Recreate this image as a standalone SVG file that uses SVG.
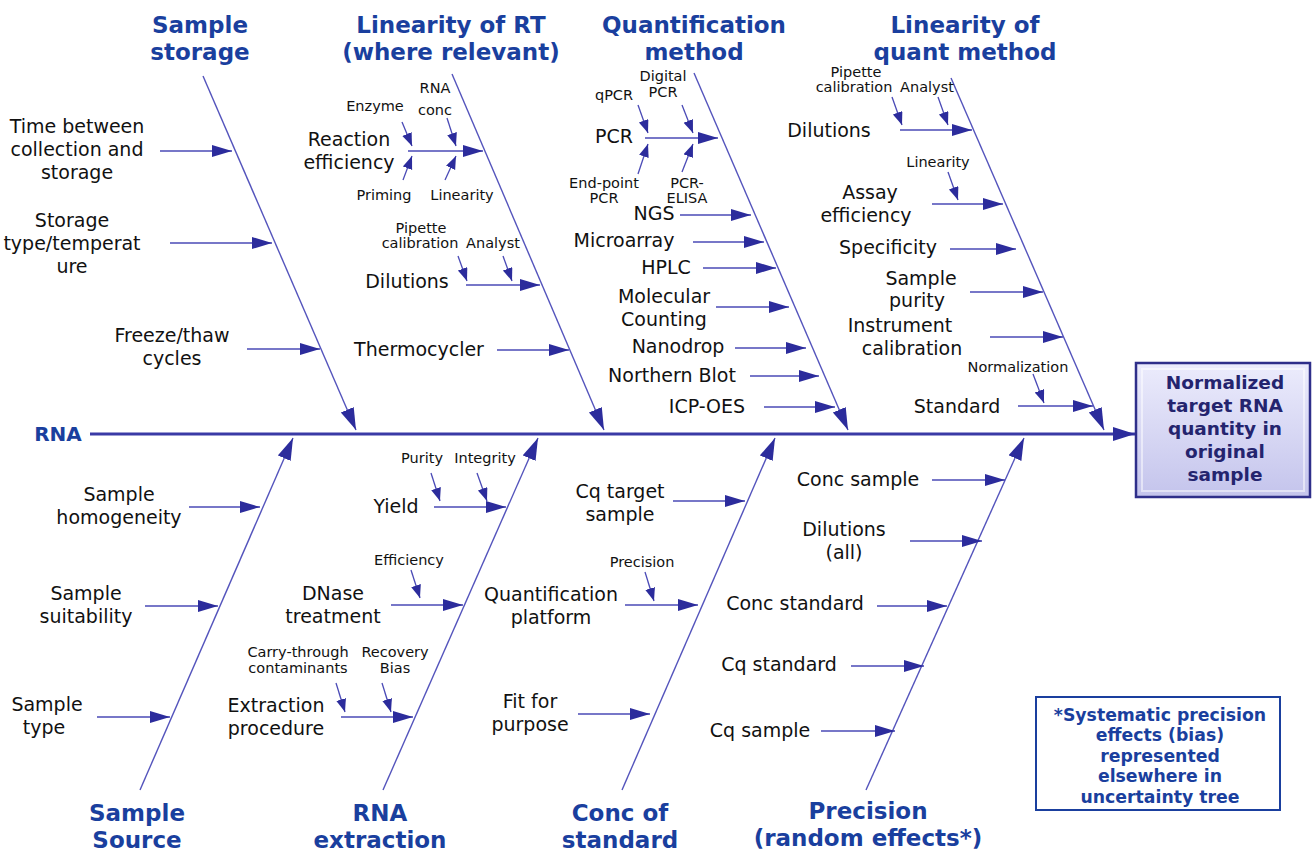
<svg xmlns="http://www.w3.org/2000/svg" width="1312" height="853" viewBox="0 0 1312 853">
<style>
.t{font-family:"DejaVu Sans","Verdana",sans-serif;font-size:23px;font-weight:bold;fill:#1a3f9e;text-anchor:middle}
.m{font-family:"DejaVu Sans","Verdana",sans-serif;font-size:19px;fill:#111;text-anchor:middle}
.s{font-family:"DejaVu Sans","Verdana",sans-serif;font-size:14.5px;fill:#111;text-anchor:middle}
.bone{stroke:#5454bc;stroke-width:1.4;fill:none}
.arr{stroke:#4a4ab6;stroke-width:1.4;fill:none;marker-end:url(#ah)}
.sa{stroke:#4a4ab6;stroke-width:1.3;fill:none;marker-end:url(#sh)}
.bx{font-family:"DejaVu Sans","Verdana",sans-serif;font-size:18.5px;font-weight:bold;fill:#24246e;text-anchor:middle}
.nt{font-family:"DejaVu Sans","Verdana",sans-serif;font-size:17.3px;font-weight:bold;fill:#1a3f9e;text-anchor:middle}
</style>
<defs>
<marker id="ah" markerUnits="userSpaceOnUse" markerWidth="22" markerHeight="14" refX="20" refY="6" orient="auto"><path d="M0,0 L20,6 L0,12 z" fill="#2c2c9c"/></marker>
<marker id="sh" markerUnits="userSpaceOnUse" markerWidth="14" markerHeight="11" refX="13" refY="5" orient="auto"><path d="M0,0 L13,5 L0,10 z" fill="#2c2c9c"/></marker>
<marker id="bh" markerUnits="userSpaceOnUse" markerWidth="24" markerHeight="16" refX="22" refY="7" orient="auto"><path d="M0,0 L22,7 L0,14 z" fill="#2c2c9c"/></marker>
<linearGradient id="bg" x1="0" y1="0" x2="0" y2="1"><stop offset="0" stop-color="#ececfc"/><stop offset="1" stop-color="#c4c4ec"/></linearGradient>
</defs>
<rect width="1312" height="853" fill="#fff"/>

<g id="connectors">
<line x1="90" y1="434" x2="1135" y2="434" stroke="#3a3aa6" stroke-width="3" marker-end="url(#bh)"/>
<line class="bone" x1="203" y1="76" x2="356" y2="430" marker-end="url(#bh)"/>
<line class="bone" x1="452" y1="74" x2="604" y2="430" marker-end="url(#bh)"/>
<line class="bone" x1="694" y1="73" x2="848" y2="430" marker-end="url(#bh)"/>
<line class="bone" x1="951" y1="78" x2="1104" y2="430" marker-end="url(#bh)"/>
<line class="bone" x1="140" y1="790" x2="293" y2="438" marker-end="url(#bh)"/>
<line class="bone" x1="383" y1="790" x2="538" y2="438" marker-end="url(#bh)"/>
<line class="bone" x1="622" y1="790" x2="775" y2="438" marker-end="url(#bh)"/>
<line class="bone" x1="866" y1="790" x2="1024" y2="438" marker-end="url(#bh)"/>
<line class="arr" x1="160" y1="151" x2="232" y2="151"/>
<line class="arr" x1="170" y1="243" x2="272" y2="243"/>
<line class="arr" x1="247" y1="349" x2="320" y2="349"/>
<line class="arr" x1="408" y1="151" x2="483" y2="151"/>
<line class="sa" x1="402" y1="122" x2="412" y2="146"/>
<line class="sa" x1="447" y1="118" x2="456" y2="146"/>
<line class="sa" x1="403" y1="180" x2="412" y2="156"/>
<line class="sa" x1="445" y1="180" x2="456" y2="156"/>
<line class="arr" x1="466" y1="285" x2="540" y2="285"/>
<line class="sa" x1="458" y1="256" x2="467" y2="281"/>
<line class="sa" x1="503" y1="256" x2="512" y2="281"/>
<line class="arr" x1="497" y1="350" x2="569" y2="350"/>
<line class="arr" x1="645" y1="138" x2="718" y2="138"/>
<line class="sa" x1="638" y1="105" x2="648" y2="133"/>
<line class="sa" x1="682" y1="105" x2="693" y2="133"/>
<line class="sa" x1="638" y1="174" x2="648" y2="144"/>
<line class="sa" x1="682" y1="172" x2="693" y2="144"/>
<line class="arr" x1="680" y1="215" x2="751" y2="215"/>
<line class="arr" x1="693" y1="242" x2="764" y2="242"/>
<line class="arr" x1="703" y1="268" x2="776" y2="268"/>
<line class="arr" x1="716" y1="307" x2="789" y2="307"/>
<line class="arr" x1="735" y1="348" x2="806" y2="348"/>
<line class="arr" x1="750" y1="376" x2="819" y2="376"/>
<line class="arr" x1="764" y1="407" x2="835" y2="407"/>
<line class="arr" x1="900" y1="130" x2="972" y2="130"/>
<line class="sa" x1="892" y1="97" x2="902" y2="125"/>
<line class="sa" x1="938" y1="97" x2="948" y2="125"/>
<line class="sa" x1="948" y1="172" x2="958" y2="200"/>
<line class="arr" x1="932" y1="204" x2="1003" y2="204"/>
<line class="arr" x1="950" y1="249" x2="1016" y2="249"/>
<line class="arr" x1="970" y1="292" x2="1043" y2="292"/>
<line class="arr" x1="990" y1="337" x2="1063" y2="337"/>
<line class="sa" x1="1033" y1="374" x2="1044" y2="403"/>
<line class="arr" x1="1018" y1="406" x2="1093" y2="406"/>
<line class="arr" x1="189" y1="507" x2="260" y2="507"/>
<line class="arr" x1="145" y1="606" x2="218" y2="606"/>
<line class="arr" x1="97" y1="717" x2="170" y2="717"/>
<line class="sa" x1="431" y1="473" x2="440" y2="501"/>
<line class="sa" x1="477" y1="473" x2="487" y2="501"/>
<line class="arr" x1="434" y1="507" x2="506" y2="507"/>
<line class="sa" x1="411" y1="570" x2="420" y2="598"/>
<line class="arr" x1="391" y1="605" x2="463" y2="605"/>
<line class="sa" x1="336" y1="683" x2="345" y2="712"/>
<line class="sa" x1="382" y1="683" x2="391" y2="712"/>
<line class="arr" x1="341" y1="717" x2="413" y2="717"/>
<line class="arr" x1="673" y1="501" x2="745" y2="501"/>
<line class="sa" x1="645" y1="572" x2="654" y2="601"/>
<line class="arr" x1="625" y1="605" x2="698" y2="605"/>
<line class="arr" x1="578" y1="714" x2="650" y2="714"/>
<line class="arr" x1="932" y1="480" x2="1005" y2="480"/>
<line class="arr" x1="910" y1="541" x2="982" y2="541"/>
<line class="arr" x1="877" y1="606" x2="947" y2="606"/>
<line class="arr" x1="851" y1="666" x2="924" y2="666"/>
<line class="arr" x1="821" y1="731" x2="895" y2="731"/>
</g>

<g id="title-sample-storage"><text class="t" x="200" y="33">Sample</text><text class="t" x="200" y="60">storage</text></g>
<g id="title-linearity-rt"><text class="t" x="451" y="33">Linearity of RT</text><text class="t" x="451" y="60">(where relevant)</text></g>
<g id="title-quant-method"><text class="t" x="694" y="33">Quantification</text><text class="t" x="694" y="60">method</text></g>
<g id="title-linearity-quant"><text class="t" x="965" y="33">Linearity of</text><text class="t" x="965" y="60">quant method</text></g>
<g id="title-sample-source"><text class="t" x="137" y="821">Sample</text><text class="t" x="137" y="848">Source</text></g>
<g id="title-rna-extraction"><text class="t" x="380" y="821">RNA</text><text class="t" x="380" y="848">extraction</text></g>
<g id="title-conc-standard"><text class="t" x="620" y="821">Conc of</text><text class="t" x="620" y="848">standard</text></g>
<g id="title-precision"><text class="t" x="868" y="819">Precision</text><text class="t" x="868" y="846">(random effects*)</text></g>
<g id="rna"><text class="t" x="58" y="441" style="font-size:20px">RNA</text></g>

<g id="n-time"><text class="m" x="77" y="133">Time between</text><text class="m" x="77" y="156">collection and</text><text class="m" x="77" y="179">storage</text></g>
<g id="n-storage-type"><text class="m" x="72" y="227">Storage</text><text class="m" x="72" y="250">type/temperat</text><text class="m" x="72" y="273">ure</text></g>
<g id="n-freeze"><text class="m" x="172" y="342">Freeze/thaw</text><text class="m" x="172" y="365">cycles</text></g>

<g id="n-reaction"><text class="m" x="349" y="146">Reaction</text><text class="m" x="349" y="169">efficiency</text></g>
<g id="n-enzyme"><text class="s" x="375" y="111">Enzyme</text></g>
<g id="n-rnaconc"><text class="s" x="435" y="93">RNA</text><text class="s" x="435" y="115">conc</text></g>
<g id="n-priming"><text class="s" x="384" y="200">Priming</text></g>
<g id="n-linearity1"><text class="s" x="462" y="200">Linearity</text></g>
<g id="n-pipette1"><text class="s" x="421" y="233">Pipette</text><text class="s" x="420" y="248">calibration</text></g>
<g id="n-analyst1"><text class="s" x="493" y="248">Analyst</text></g>
<g id="n-dilutions1"><text class="m" x="407" y="288">Dilutions</text></g>
<g id="n-thermo"><text class="m" x="419" y="356">Thermocycler</text></g>

<g id="n-qpcr"><text class="s" x="614" y="100">qPCR</text></g>
<g id="n-digital"><text class="s" x="663" y="81">Digital</text><text class="s" x="663" y="97">PCR</text></g>
<g id="n-pcr"><text class="m" x="614" y="143">PCR</text></g>
<g id="n-endpoint"><text class="s" x="604" y="188">End-point</text><text class="s" x="604" y="203">PCR</text></g>
<g id="n-elisa"><text class="s" x="687" y="188">PCR-</text><text class="s" x="687" y="203">ELISA</text></g>
<g id="n-ngs"><text class="m" x="654" y="220">NGS</text></g>
<g id="n-micro"><text class="m" x="624" y="247">Microarray</text></g>
<g id="n-hplc"><text class="m" x="666" y="274">HPLC</text></g>
<g id="n-molec"><text class="m" x="664" y="303">Molecular</text><text class="m" x="664" y="326">Counting</text></g>
<g id="n-nano"><text class="m" x="678" y="353">Nanodrop</text></g>
<g id="n-northern"><text class="m" x="672" y="382">Northern Blot</text></g>
<g id="n-icp"><text class="m" x="707" y="413">ICP-OES</text></g>

<g id="n-pipette2"><text class="s" x="856" y="77">Pipette</text><text class="s" x="854" y="92">calibration</text></g>
<g id="n-analyst2"><text class="s" x="927" y="92">Analyst</text></g>
<g id="n-dilutions2"><text class="m" x="829" y="137">Dilutions</text></g>
<g id="n-linearity2"><text class="s" x="938" y="167">Linearity</text></g>
<g id="n-assay"><text class="m" x="870" y="199">Assay</text><text class="m" x="866" y="222">efficiency</text></g>
<g id="n-spec"><text class="m" x="888" y="254">Specificity</text></g>
<g id="n-purity"><text class="m" x="921" y="285">Sample</text><text class="m" x="917" y="307">purity</text></g>
<g id="n-instr"><text class="m" x="900" y="332">Instrument</text><text class="m" x="912" y="355">calibration</text></g>
<g id="n-norm"><text class="s" x="1018" y="372">Normalization</text></g>
<g id="n-standard"><text class="m" x="957" y="413">Standard</text></g>

<g id="n-homog"><text class="m" x="119" y="501">Sample</text><text class="m" x="119" y="524">homogeneity</text></g>
<g id="n-suit"><text class="m" x="86" y="600">Sample</text><text class="m" x="86" y="623">suitability</text></g>
<g id="n-type"><text class="m" x="47" y="711">Sample</text><text class="m" x="44" y="734">type</text></g>

<g id="n-purity2"><text class="s" x="422" y="463">Purity</text></g>
<g id="n-integrity"><text class="s" x="485" y="463">Integrity</text></g>
<g id="n-yield"><text class="m" x="396" y="513">Yield</text></g>
<g id="n-eff"><text class="s" x="409" y="565">Efficiency</text></g>
<g id="n-dnase"><text class="m" x="333" y="600">DNase</text><text class="m" x="333" y="623">treatment</text></g>
<g id="n-carry"><text class="s" x="298" y="657">Carry-through</text><text class="s" x="298" y="673">contaminants</text></g>
<g id="n-recovery"><text class="s" x="395" y="657">Recovery</text><text class="s" x="395" y="673">Bias</text></g>
<g id="n-extraction"><text class="m" x="276" y="712">Extraction</text><text class="m" x="276" y="735">procedure</text></g>

<g id="n-cqtarget"><text class="m" x="620" y="498">Cq target</text><text class="m" x="620" y="521">sample</text></g>
<g id="n-precision2"><text class="s" x="642" y="567">Precision</text></g>
<g id="n-platform"><text class="m" x="551" y="601">Quantification</text><text class="m" x="551" y="624">platform</text></g>
<g id="n-fit"><text class="m" x="530" y="708">Fit for</text><text class="m" x="530" y="731">purpose</text></g>

<g id="n-concsample"><text class="m" x="858" y="486">Conc sample</text></g>
<g id="n-dilall"><text class="m" x="844" y="536">Dilutions</text><text class="m" x="844" y="559">(all)</text></g>
<g id="n-concstd"><text class="m" x="795" y="610">Conc standard</text></g>
<g id="n-cqstd"><text class="m" x="779" y="671">Cq standard</text></g>
<g id="n-cqsample"><text class="m" x="760" y="737">Cq sample</text></g>

<g id="result">
<rect x="1136" y="363" width="174" height="134" fill="url(#bg)" stroke="#2f2f8a" stroke-width="2.5"/>
<rect x="1142" y="369" width="162" height="122" fill="none" stroke="#ffffff" stroke-opacity="0.5" stroke-width="2"/>
<text class="bx" x="1225" y="389">Normalized</text>
<text class="bx" x="1225" y="412">target RNA</text>
<text class="bx" x="1225" y="435">quantity in</text>
<text class="bx" x="1225" y="458">original</text>
<text class="bx" x="1225" y="481">sample</text>
</g>

<g id="note">
<rect x="1036" y="697" width="244" height="113" fill="#fff" stroke="#1a3f9e" stroke-width="2"/>
<text class="nt" x="1160" y="721">*Systematic precision</text>
<text class="nt" x="1160" y="741">effects (bias)</text>
<text class="nt" x="1160" y="762">represented</text>
<text class="nt" x="1160" y="782">elsewhere in</text>
<text class="nt" x="1160" y="803">uncertainty tree</text>
</g>
</svg>
